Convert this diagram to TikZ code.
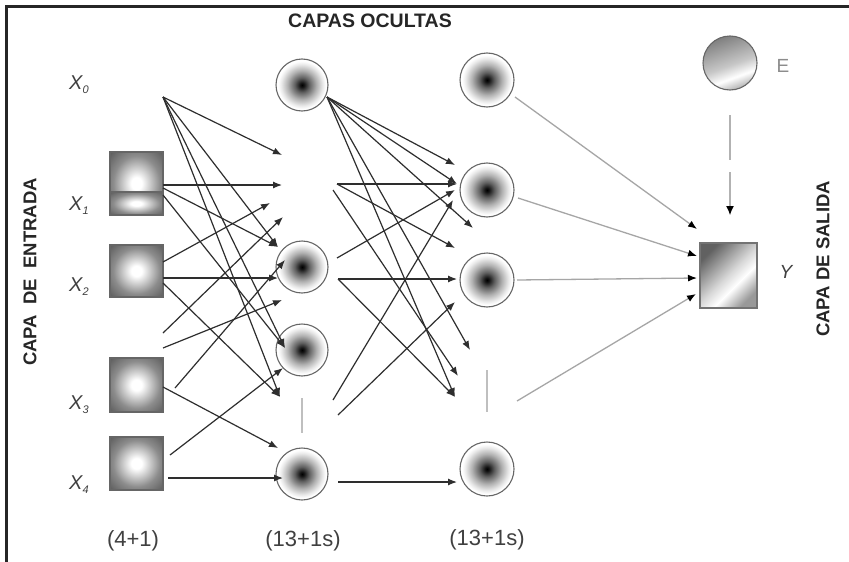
\documentclass[tikz,border=0pt]{standalone}
\usepackage{fontspec}
\setmainfont{Liberation Sans}
\usetikzlibrary{arrows.meta}
\pgfdeclareradialshading{neuron}{\pgfpoint{0bp}{0bp}}{color(0bp)=(black); color(2bp)=(black!92); color(7bp)=(black!62); color(14bp)=(black!30); color(20bp)=(black!8); color(23bp)=(white); color(50bp)=(white)}
\pgfdeclareradialshading{inboxsh}{\pgfpoint{0bp}{0bp}}{color(0bp)=(white); color(5bp)=(white); color(22bp)=(black!45); color(36bp)=(black!65); color(50bp)=(black!65)}
\pgfdeclarehorizontalshading{outsh}{100bp}{color(0bp)=(black!62); color(25bp)=(black!62); color(50bp)=(black!15); color(60bp)=(white); color(75bp)=(black!40); color(100bp)=(black!40)}
\pgfdeclarehorizontalshading{biassh}{100bp}{color(0bp)=(black!50); color(25bp)=(black!50); color(52bp)=(black!22); color(64bp)=(white); color(75bp)=(black!30); color(100bp)=(black!30)}
\tikzset{
  neur/.style={circle, minimum size=52pt, inner sep=0pt, draw=black!60, line width=1.1pt, shading=neuron},
  inbox/.style={rectangle, minimum width=53pt, inner sep=0pt, draw=black!60, line width=1.4pt, shading=inboxsh},
  outbox/.style={rectangle, minimum width=57pt, minimum height=65pt, inner sep=0pt, draw=black!55, line width=1.2pt, shading=outsh, shading angle=-45},
  biasnode/.style={circle, minimum size=54pt, inner sep=0pt, draw=black!60, line width=1.1pt, shading=biassh, shading angle=-70},
  conn/.style={draw=black!82, line width=1.2pt, -{Latex[length=9pt,width=7pt]}},
  gconn/.style={draw=black!35, line width=1.3pt, -{Latex[length=9pt,width=7pt,color=black]}},
  dconn/.style={draw=black!30, line width=1.1pt, dash pattern=on 45pt off 12pt, -{Latex[length=9pt,width=8pt,color=black]}},
  xlbl/.style={anchor=west, inner sep=0pt, text=black!75, font=\fontsize{20}{20}\selectfont\itshape},
  cnt/.style={inner sep=0pt, text=black!75, font=\fontsize{22}{22}\selectfont},
  head/.style={inner sep=0pt, text=black!85, font=\fontsize{18.5}{18.5}\selectfont\bfseries},
  gapline/.style={draw=black!25, line width=2pt}
}
\newcommand{\xsub}[1]{X\raisebox{-0.4ex}{\fontsize{11}{11}\selectfont #1}}
\begin{document}
\begin{tikzpicture}[x=1pt,y=-1pt]
\useasboundingbox (0,0) rectangle (849,562);
\fill[white] (0,0) rectangle (849,562);
\draw[line width=3pt, black!85] (6.5,562) -- (6.5,6) -- (849,6);

% titles
\node[head, font=\fontsize{19.5}{19.5}\selectfont\bfseries] (title) at (370,21) {CAPAS OCULTAS};
\node[head, rotate=90] (lefttxt) at (30,272) {CAPA\ \ DE\ \ ENTRADA};
\node[head, rotate=90] (righttxt) at (823,259) {CAPA DE SALIDA};

% input layer
\node[inbox, minimum height=63pt] (in1) at (136.5,183.5) {};
\shade[shading=inboxsh, draw=black!60, line width=1.4pt] (110,192) rectangle (163,215);
\node[inbox, minimum height=52pt] (in2) at (136.5,271) {};
\node[inbox, minimum height=54pt] (in3) at (136.5,385) {};
\node[inbox, minimum height=53pt] (in4) at (136.5,463.5) {};
\node[xlbl] (lx0) at (69,85) {\xsub{0}};
\node[xlbl] (lx1) at (69,206) {\xsub{1}};
\node[xlbl] (lx2) at (69,287) {\xsub{2}};
\node[xlbl] (lx3) at (69,405) {\xsub{3}};
\node[xlbl] (lx4) at (69,485) {\xsub{4}};

% hidden layer 1
\node[neur] (h1a) at (302,85) {};
\node[neur] (h1b) at (302,267) {};
\node[neur] (h1c) at (302,350) {};
\node[neur] (h1d) at (302,474) {};
\draw[gapline] (302,398) -- (302,433);

% hidden layer 2
\node[neur, minimum size=54pt] (h2a) at (487,80) {};
\node[neur, minimum size=54pt] (h2b) at (487,190) {};
\node[neur, minimum size=54pt] (h2c) at (487,280) {};
\node[neur, minimum size=54pt] (h2d) at (487,469) {};
\draw[gapline] (487,370) -- (487,412);

% output and bias
\node[outbox] (out) at (728.5,275.5) {};
\node[biasnode] (bias) at (730,63) {};
\node[inner sep=0pt, text=black!45, font=\fontsize{19}{19}\selectfont] (eps) at (783,66) {E};
\node[inner sep=0pt, text=black!75, font=\fontsize{19}{19}\selectfont\itshape] (ylbl) at (786,272) {Y};

% counts
\node[cnt] (c0) at (133,541) {(4+1)};
\node[cnt] (c1) at (303,541) {(13+1s)};
\node[cnt] (c2) at (487,540) {(13+1s)};

% ---- input -> hidden 1 ----
\coordinate (x0p) at (163,97);
\coordinate (s1a) at (163,185);
\coordinate (s1b) at (163,188);
\coordinate (s1c) at (163,195);
\coordinate (s2a) at (163,262);
\coordinate (s2b) at (163,278);
\coordinate (s2c) at (163,283);
\coordinate (v1) at (163,333);
\coordinate (v2) at (163,348);
\coordinate (s3a) at (175,388);
\coordinate (s3b) at (163,387);
\coordinate (s4a) at (170,455);
\coordinate (s4b) at (168,478);

\coordinate (t155) at (282,155);
\coordinate (t185) at (282,185);
\coordinate (t203) at (270,203);
\coordinate (t217) at (283,217);
\coordinate (t247) at (278,247);
\coordinate (t260) at (285,260);
\coordinate (t278) at (278,278);
\coordinate (t300) at (282,300);
\coordinate (t348) at (285,348);
\coordinate (t368) at (283,368);
\coordinate (t397) at (280,397);
\coordinate (t448) at (278,448);
\coordinate (t478) at (283,478);

\draw[conn] (x0p) -- (t155);
\draw[conn] (x0p) -- (t247);
\draw[conn] (x0p) -- (t348);
\draw[conn] (x0p) -- (t397);
\draw[conn] (s1a) -- (t185);
\draw[conn] (s1b) -- (t247);
\draw[conn] (s1c) -- (t348);
\draw[conn] (s2a) -- (t203);
\draw[conn] (s2b) -- (t278);
\draw[conn] (s2c) -- (t397);
\draw[conn] (v1) -- (t217);
\draw[conn] (v2) -- (t300);
\draw[conn] (s3a) -- (t260);
\draw[conn] (s3b) -- (t448);
\draw[conn] (s4a) -- (t368);
\draw[conn] (s4b) -- (t478);

% ---- hidden 1 -> hidden 2 ----
\coordinate (pa) at (327,97);
\coordinate (pb) at (337,184);
\coordinate (pb2) at (333,190);
\coordinate (pc) at (337,258);
\coordinate (pd) at (338,279);
\coordinate (pe) at (333,400);
\coordinate (pf) at (338,415);
\coordinate (pg) at (338,482);

\coordinate (u165) at (455,165);
\coordinate (u184) at (457,184);
\coordinate (u190) at (455,190);
\coordinate (u200) at (453,200);
\coordinate (u228) at (473,228);
\coordinate (u248) at (455,248);
\coordinate (u279) at (457,279);
\coordinate (u302) at (455,302);
\coordinate (u350) at (470,350);
\coordinate (u376) at (458,376);
\coordinate (u397) at (455,397);
\coordinate (u482) at (457,482);

\draw[conn] (pa) -- (u165);
\draw[conn] (pa) -- (u184);
\draw[conn] (pa) -- (u228);
\draw[conn] (pa) -- (u350);
\draw[conn] (pa) -- (u397);
\draw[conn] (pb) -- (u184);
\draw[conn] (pb) -- (u248);
\draw[conn] (pb2) -- (u376);
\draw[conn] (pc) -- (u190);
\draw[conn] (pd) -- (u279);
\draw[conn] (pd) -- (u397);
\draw[conn] (pe) -- (u200);
\draw[conn] (pf) -- (u302);
\draw[conn] (pg) -- (u482);

% ---- hidden 2 -> output ----
\coordinate (qa) at (515,97);
\coordinate (qb) at (518,198);
\coordinate (qc) at (517,280);
\coordinate (qd) at (517,401);
\coordinate (o229) at (697,229);
\coordinate (o256) at (697,256);
\coordinate (o278) at (697,278);
\coordinate (o294) at (696,294);
\draw[gconn] (qa) -- (o229);
\draw[gconn] (qb) -- (o256);
\draw[gconn] (qc) -- (o278);
\draw[gconn] (qd) -- (o294);

\coordinate (bs) at (730,115);
\coordinate (bt) at (730,215);
\draw[dconn] (bs) -- (bt);
\end{tikzpicture}
\end{document}
